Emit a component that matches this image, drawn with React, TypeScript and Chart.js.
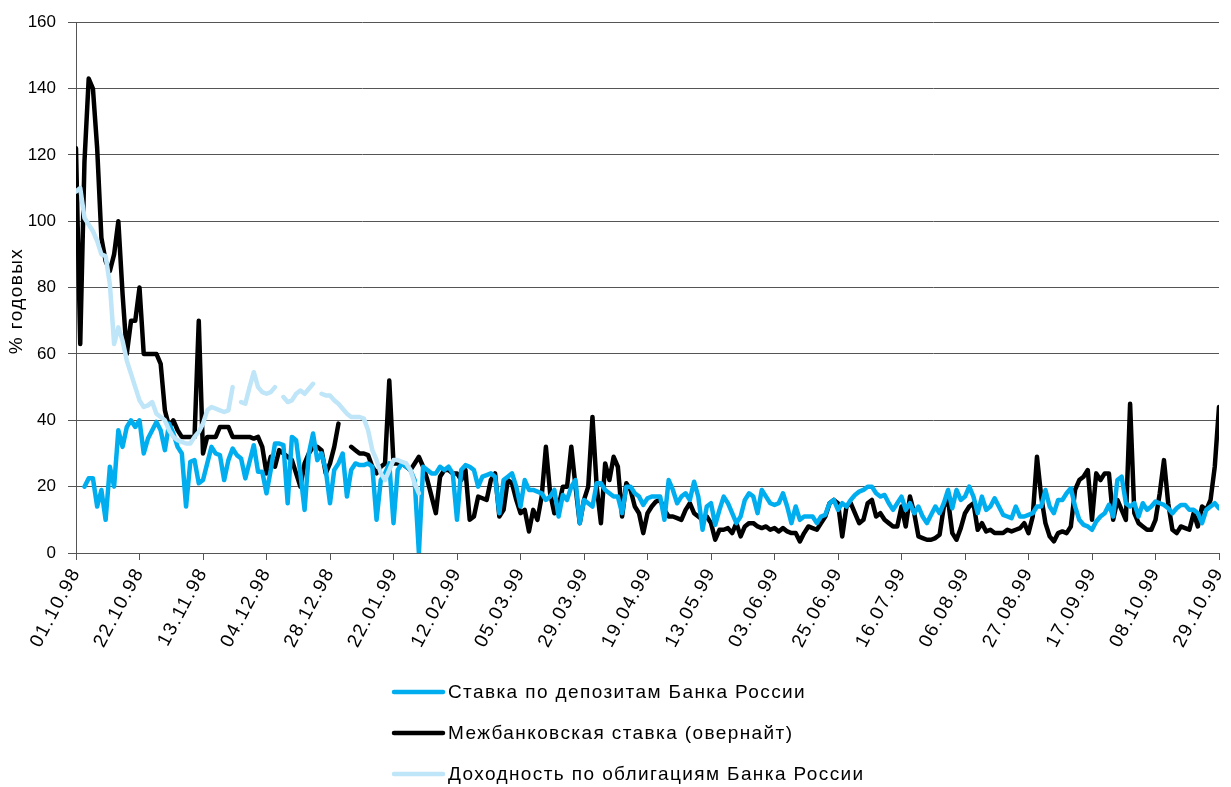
import React, { useEffect, useRef } from 'react';
import { Chart, registerables, LinearScale } from 'chart.js';

Chart.register(...registerables);

const X_LETTER_SPACING = '1.6px';

class SpacedLinearScale extends LinearScale {
  static id = 'spacedLinear';
  drawLabels(chartArea: any) {
    const ctx: any = (this as any).ctx;
    ctx.save();
    ctx.letterSpacing = X_LETTER_SPACING;
    super.drawLabels(chartArea);
    ctx.restore();
  }
}
Chart.register(SpacedLinearScale as any);

const FONT = '"Liberation Sans", Arial, Helvetica, sans-serif';

const tickLabels = [
  '01.10.98', '22.10.98', '13.11.98', '04.12.98', '28.12.98', '22.01.99', '12.02.99',
  '05.03.99', '29.03.99', '19.04.99', '13.05.99', '03.06.99', '25.06.99', '16.07.99',
  '06.08.99', '27.08.99', '17.09.99', '08.10.99', '29.10.99',
];

const seriesLabels = [
  'Ставка по депозитам Банка России',
  'Межбанковская ставка (овернайт)',
  'Доходность по облигациям Банка России',
];

const yTitle = '% годовых';

// Ставка по депозитам Банка России
const deposit: (number | null)[] = [
  null, null, 20, 22.5, 22.5, 14, 19, 10, 26, 20,
  37, 32, 38, 40, 38, 40, 30, 34.5, 37, 39.5,
  37, 31, 39, 36, 32, 30, 14, 27.5, 28, 21,
  22, 27, 32, 30, 29.5, 22, 28, 31.5, 29.5, 28.5,
  22.5, 27.5, 32.5, 24.5, 24.5, 18, 25, 33, 33, 32.5,
  15, 35, 34, 24, 13, 30, 36, 28, 30, 25,
  15, 25, 27, 30, 17, 25, 27, 26.5, 26.5, 27,
  26, 10, 22, 24, 27, 9, 25, 27, 26, 25,
  22, 0, 26, 25, 24, 24, 26, 25, 26, 24,
  10, 25, 26.5, 26, 25, 20, 23, 23.5, 24, 23,
  12, 22, 23, 24, 20, 14, 22, 19, 19, 18.5,
  18, 16, 17, 19, 11, 17.5, 16, 20, 22, 9,
  16, 15, 14, 21, 21, 19, 18, 17, 17, 12,
  20, 20, 18, 17, 14.5, 16.5, 17, 17, 17, 10,
  22, 19, 15, 17, 18, 16, 21.5, 17, 7, 14,
  15, 8.5, 13, 17, 15, 12, 9, 11, 16, 18,
  17, 12, 19, 17, 15, 14.5, 15, 18, 14, 9,
  14, 10, 11, 11, 11, 9, 11, 11.5, 15, 16,
  13, 15, 14, 16, 17.5, 18.5, 19, 20, 20, 18,
  17, 17.5, 15, 13, 15, 17, 13, 15, 12, 14,
  11, 9, 11.5, 14, 12, 15, 19, 13.5, 19, 16,
  17, 20, 17, 12, 17, 13, 14, 16.5, 14, 11.5,
  11, 10.5, 14, 11, 11, 11.5, 12, 14, 14, 19,
  14, 12, 16, 16, 18, 19.5, 14, 10, 8.5, 8,
  7, 9.5, 11, 12, 14.5, 11, 22, 23, 15, 14,
  15, 11, 15, 13, 14, 15.5, 15, 14.5, 13.5, 12,
  13.5, 14.5, 14.5, 13, 13, 12, 9, 13, 14, 15,
  13.5,
];

// Межбанковская ставка (овернайт)
const interbank: (number | null)[] = [
  122, 63, 118, 143, 140, 122, 95, 88, 85, 90,
  100, 78, 60, 70, 70, 80, 60, 60, 60, 60,
  57, 43, 38, 40, 37, 35, 35, 35, 35, 70,
  30, 35, 35, 35, 38, 38, 38, 35, 35, 35,
  35, 35, 34.5, 35, 32, 24, 29, 26, 31, 30,
  29, 28, 24, 20, 27, 30, 32, 32, 31, 24,
  27, 32, 39, null, null, 32, 31, 30, 30, 29.5,
  26, 24, 26, 27, 52, 27, 27, 27, 26, 25,
  27, 29, 26, 22, 17, 12, 23, 25, 25, 24,
  24, 22, 25, 10, 11, 17, 16.5, 16, 22, 24,
  11, 13, 22, 21, 16, 12, 13, 6.5, 13, 10,
  17, 32, 18, 12, 14, 20, 20, 32, 20, 9,
  16, 20, 41, 20, 9, 27, 22, 29, 26, 11,
  21, 19, 14, 12, 6, 12, 14, 15.5, 16, 13,
  11, 11, 10.5, 10, 13, 15, 12, 11, 10, 11,
  9, 4, 7, 7, 7.5, 6, 9, 5, 8, 9,
  9, 8, 7.5, 8, 7, 7.5, 6.5, 7.5, 6.5, 6,
  6, 3.5, 6, 8, 7.5, 7, 9, 11, 15, 16,
  15, 5, 14, 15, 12, 9, 10, 15, 16, 11,
  12, 10, 9, 8, 8, 14, 8, 17, 12, 5,
  4.5, 4, 4, 4.5, 5.5, 14, 16, 6, 4, 7.5,
  12, 14, 15, 7, 9, 6.5, 7, 6, 6, 6,
  7, 6.5, 7, 7.5, 9, 6, 11, 29, 17, 9,
  5, 3.5, 6, 6.5, 6, 8, 19, 22, 23, 25,
  10, 24, 22, 24, 24, 10, 16, 13, 10, 45,
  12, 9, 8, 7, 7, 10, 18, 28, 15, 7,
  6, 8, 7.5, 7, 12, 8, 14, 13, 16, 26,
  44,
];

// Доходность по облигациям Банка России
const bonds: (number | null)[] = [
  109, 110, 101, 99, 97, 94, 90, 89.5, 81, 63,
  68, 64, 58, 54, 50, 46, 44, 44.5, 45.5, 42,
  41, 40, 37, 35, 34, 33.5, 33, 33, 35, 36.5,
  39, 43, 44, 43.5, 43, 42.5, 43, 50, null, 45.5,
  45, 50, 54.5, 50, 48.5, 48, 48.5, 50, null, 47,
  45.5, 46, 48, 49, 48, 49.5, 51, null, 48, 47.5,
  47.5, 46, 45, 43.5, 42, 41, 41, 41, 40.5, 37,
  31, 28, 24, 22, 25, 28, 28, 27.5, 27, 25,
  21, 18,
];

const seriesColors = ['#00AEEF', '#000000', '#BFE5F8'];

const textPlugin = {
  id: 'customText',
  afterDraw(chart: any) {
    const ctx = chart.ctx;
    ctx.save();
    ctx.letterSpacing = '1.4px';
    ctx.font = `19px ${FONT}`;
    ctx.fillStyle = '#000';
    // y-axis title
    ctx.save();
    ctx.translate(17, 301);
    ctx.rotate(-Math.PI / 2);
    ctx.textAlign = 'center';
    ctx.textBaseline = 'middle';
    ctx.fillText(yTitle, 0, 0);
    ctx.restore();
    // legend (stacked)
    chart.data.datasets.forEach((ds: any, i: number) => {
      const y = 692 + i * 41;
      ctx.beginPath();
      ctx.strokeStyle = ds.borderColor;
      ctx.lineWidth = 4.5;
      ctx.lineCap = 'round';
      ctx.moveTo(394, y);
      ctx.lineTo(443, y);
      ctx.stroke();
      ctx.textAlign = 'left';
      ctx.textBaseline = 'middle';
      ctx.fillStyle = '#000';
      ctx.fillText(ds.label, 448, y + 1);
    });
    ctx.restore();
  },
};

export default function App() {
  const canvasRef = useRef<HTMLCanvasElement | null>(null);

  useEffect(() => {
    if (!canvasRef.current) return;
    const toPts = (arr: (number | null)[]) => arr.map((y, x) => ({ x, y }));
    const common = {
      borderWidth: 4.5,
      pointRadius: 0,
      pointHoverRadius: 0,
      tension: 0,
      fill: false,
      spanGaps: false,
      borderJoinStyle: 'round' as const,
      borderCapStyle: 'round' as const,
    };
    const chart = new Chart(canvasRef.current, {
      type: 'line',
      data: {
        datasets: [
          { ...common, label: seriesLabels[0], data: toPts(deposit), borderColor: seriesColors[0], order: 1 },
          { ...common, label: seriesLabels[1], data: toPts(interbank), borderColor: seriesColors[1], order: 2 },
          { ...common, label: seriesLabels[2], data: toPts(bonds), borderColor: seriesColors[2], order: 0 },
        ],
      },
      options: {
        animation: false,
        responsive: false,
        events: [],
        layout: { padding: { top: 20, right: 12, left: 0, bottom: 0 } },
        plugins: {
          legend: { display: false },
          tooltip: { enabled: false },
          title: { display: false },
        },
        scales: {
          x: {
            type: 'spacedLinear' as any,
            min: 0,
            max: (tickLabels.length - 1) * 15,
            ticks: {
              stepSize: 15,
              autoSkip: false,
              maxRotation: 62,
              minRotation: 62,
              padding: 4,
              color: '#000',
              font: { family: FONT, size: 19 },
              callback: (v: any) => {
                const k = Math.round(Number(v) / 15);
                return Number(v) % 15 === 0 ? tickLabels[k] ?? '' : '';
              },
            },
            grid: { drawOnChartArea: false, drawTicks: true, tickLength: 7, color: '#555', lineWidth: 1 },
            border: { display: true, color: '#555', width: 1 },
            afterFit: (s: any) => {
              s.height = 787 - 553;
              s.paddingLeft = 0;
              s.paddingRight = 0;
            },
          } as any,
          y: {
            min: 0,
            max: 160,
            ticks: {
              stepSize: 20,
              padding: 12,
              color: '#000',
              font: { family: FONT, size: 17 },
            },
            grid: { color: '#555', lineWidth: 1, drawTicks: true, tickLength: 8 },
            border: { display: true, color: '#555', width: 1 },
            afterFit: (s: any) => { s.width = 76; },
          },
        },
      },
      plugins: [textPlugin],
    });
    return () => chart.destroy();
  }, []);

  return (
    <div style={{ position: 'fixed', left: 0, top: 0, width: 1231, height: 787, background: '#fff' }}>
      <canvas ref={canvasRef} width={1231} height={787} style={{ display: 'block', width: 1231, height: 787 }} />
    </div>
  );
}
